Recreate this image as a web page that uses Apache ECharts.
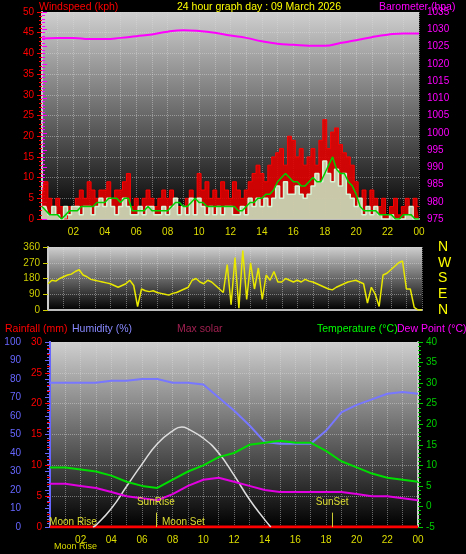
<!DOCTYPE html>
<html><head><meta charset="utf-8">
<script src="https://cdn.jsdelivr.net/npm/echarts@6/dist/echarts.min.js"></script>
<style>html,body{margin:0;background:#000}#c{width:466px;height:554px}</style>
</head><body><div id="c"></div>
<script>
// 15-minute wind data (kph)
const gust = [5,9,5,3, 5,3,0,3, 3,5,7,5, 9,7,5,7, 7,9,5,7, 7,9,11,3, 5,3,5,7, 5,3,5,7, 5,7,5,3, 3,5,7,5, 11,7,9,5, 7,5,9,7, 5,9,7,5, 7,9,11,13, 11,9,13,15, 16,17,13,20, 19,15,17,13, 15,17,13,19, 24,17,21,22, 18,16,15,13, 9,5,7,3, 7,5,3,5, 1,3,5,1, 3,5,1,5, 3];
const windAvg = [3,3,1,3, 1,0,3,1, 3,3,1,3, 3,1,3,5, 3,5,3,1, 3,5,3,1, 1,3,1,3, 3,1,1,3, 1,3,5,1, 3,1,5,1, 5,3,1,3, 1,3,1,3, 3,1,1,3, 1,5,3,5, 3,5,3,5, 8,5,9,6, 6,8,6,5, 6,8,11,9, 14,11,9,12, 8,11,6,5, 3,5,1,3, 1,3,1,0, 0,1,0,0, 0,1,3,0, 0];
const windMean = [3,2,1,1, 1,0,1,2, 2,2,3,3, 3,3,4,4, 4,5,5,5, 4,5,5,2, 2,2,2,3, 2,2,2,2, 2,3,4,4, 3,3,4,5, 4,4,3,3, 3,3,3,3, 3,3,2,2, 3,4,4,5, 5,6,6,7, 9,10,11,10, 9,9,8,8, 9,10,9,9, 11,13,15,12, 11,11,9,8, 6,3,2,2, 2,2,1,1, 1,1,0,0, 1,1,1,0, 0];
// hourly barometer (hPa)
const baro = [1027.3,1027.5,1027.5,1027.2,1027.2,1027.5,1028,1028.5,1029.3,1029.7,1029.5,1029,1028.2,1027.5,1026.5,1025.8,1025.5,1025.2,1025.2,1026,1026.8,1027.7,1028.4,1028.8,1028.8];
// 15-minute wind direction (deg)
const windDir = [150,170,165,180, 190,200,205,220, 230,200,190,175, 170,165,160,155, 150,140,130,140, 150,170,140,20, 120,110,105,110, 100,95,90,85, 95,100,110,120, 130,170,180,160, 150,170,160,140, 120,100,260,30, 300,10,340,60, 270,120,240,60, 200,170,220,160, 160,180,170,160, 170,160,175,165, 160,150,140,130, 120,115,130,140, 150,160,165,170, 160,150,40,130, 90,20,200,210, 230,250,270,280, 120,120,15,0, 0];
// hourly humidity, temperature, dew point
const humidity = [78,78,78,78,79,79,80,80,78,78,77,70,63,55,46,45,45,45,52,62,66,69,72,73,72];
const temperature = [9.5,9.5,9,8.5,7.5,6,5,4.5,6.5,8.5,10,12,13,15,15.5,16,15.5,15.5,13.5,11,9.5,8,7,6.5,6];
const dewPoint = [5.5,5.5,5,4.5,3.5,2.5,2,1.5,3,5,6.5,7,6,5,4,3.5,3.5,3.5,3.5,3.5,3,2.5,2.5,2,1.5];
const rainfall = [0,0,0,0,0,0,0,0,0,0,0,0,0,0,0,0,0,0,0,0,0,0,0,0,0];
const solarHours = [2.8,3,4,5,6,7,8,8.6,9,10,11,12,13,14,14.4];
const solarMax = [0,1,10,22,34,45,52,54,53,48,40,28,15,4,0];
const sunRise = 6.9, sunSet = 18.4, moonSet = 8.7, moonRise = 1.5;
const dirNames = {0:'N',90:'E',180:'S',270:'W',360:'N'};

const q = a => a.map((v,i)=>[i*0.25,v]);
const h = a => a.map((v,i)=>[i,v]);
const F = 'Liberation Sans, Arial, sans-serif';
const bg = {type:'linear',x:0,y:0,x2:0,y2:1,colorStops:[{offset:0,color:'#cfcfcf'},{offset:1,color:'#000'}]};
const pad = v => (v%24<10?'0':'')+(v%24);
const xAx = (gi, show) => ({type:'value',gridIndex:gi,min:0,max:24,interval:2,
  axisLine:{show:true,lineStyle:{color:'#bbb',width:2}},axisTick:{show:false},
  axisLabel:{show:show,color:'#dddd00',fontSize:10,fontFamily:F,showMinLabel:false,formatter:pad},
  splitLine:{show:false}});
const vgrid = gi => ({type:'value',gridIndex:gi,min:0,max:24,interval:1,axisLine:{show:false},axisTick:{show:false},axisLabel:{show:false},
  splitLine:{show:true,lineStyle:{color:'rgba(220,220,220,0.45)',type:'dotted'}}});
const T = (text,left,top,color) => ({text,left,top,textStyle:{color,fontSize:10.5,fontWeight:'normal',fontFamily:F}});

const opt = {
  backgroundColor:'#000', animation:false,
  title:[
    T('Windspeed (kph)',34,-3,'#f00'),
    T('24 hour graph day : 09 March 2026',172,-3,'#ff0'),
    T('Barometer (hpa)',374,-3,'#f0f'),
    T('Rainfall (mm)',0,319,'#f00'),
    T('Humidity (%)',67,319,'#8888ff'),
    T('Max solar',172,319,'#a02050'),
    T('Temperature (°C)',312,319,'#0f0'),
    T('Dew Point (°C)',392,319,'#f0f'),
    {text:'Moon Rise',left:49,top:537,textStyle:{color:'#dddd00',fontSize:9,fontWeight:'normal',fontFamily:F}}
  ],
  grid:[
    {left:42,right:47,top:12,height:207,show:true,backgroundColor:bg,borderWidth:0},
    {left:48,right:44,top:247,height:63,show:true,backgroundColor:bg,borderWidth:0},
    {left:50,right:48,top:342,height:185,show:true,backgroundColor:bg,borderWidth:0}
  ],
  xAxis:[xAx(0,true),xAx(1,false),xAx(2,true),vgrid(0),vgrid(1),vgrid(2)],
  yAxis:[
    {type:'value',gridIndex:0,min:0,max:50,interval:5,position:'left',
     axisLine:{show:true,lineStyle:{color:'#ccc',width:2}},axisTick:{show:true,lineStyle:{color:'#f00'}},minorTick:{show:true,splitNumber:5,lineStyle:{color:'#f00'}},
     axisLabel:{color:'#f00',fontSize:10,fontFamily:F},splitLine:{show:true,lineStyle:{color:'rgba(220,220,220,0.45)',type:'dotted'}}},
    {type:'value',gridIndex:0,min:975,max:1035,interval:5,position:'right',
     axisLine:{show:true,lineStyle:{color:'#ccc',width:2}},axisTick:{show:true,lineStyle:{color:'#f0f'}},minorTick:{show:true,splitNumber:5,lineStyle:{color:'#f0f'}},
     axisLabel:{color:'#f0f',fontSize:10,fontFamily:F,formatter:v=>String(v)},splitLine:{show:false}},
    {type:'value',gridIndex:1,min:0,max:360,interval:90,position:'left',
     axisLine:{show:true,lineStyle:{color:'#ccc',width:2}},axisTick:{show:true,lineStyle:{color:'#cccc00'}},
     axisLabel:{color:'#cccc00',fontSize:10,fontFamily:F},splitLine:{show:true,lineStyle:{color:'rgba(220,220,220,0.45)',type:'dotted'}}},
    {type:'value',gridIndex:1,min:0,max:360,interval:90,position:'right',offset:8,
     axisLine:{show:false},axisTick:{show:false},
     axisLabel:{color:'#ff0',fontSize:14,fontFamily:F,formatter:v=>dirNames[v]},splitLine:{show:false}},
    {type:'value',gridIndex:2,min:0,max:30,interval:5,position:'left',
     axisLine:{show:true,lineStyle:{color:'#ccc',width:2}},axisTick:{show:true,lineStyle:{color:'#f00'}},minorTick:{show:true,splitNumber:5,lineStyle:{color:'#f00'}},
     axisLabel:{color:'#f00',fontSize:10,fontFamily:F},splitLine:{show:true,lineStyle:{color:'rgba(220,220,220,0.45)',type:'dotted'}}},
    {type:'value',gridIndex:2,min:0,max:100,interval:10,position:'left',offset:21,
     axisLine:{show:true,lineStyle:{color:'#6666ff',width:2}},axisTick:{show:true,lineStyle:{color:'#6666ff'}},minorTick:{show:true,splitNumber:5,lineStyle:{color:'#6666ff'}},
     axisLabel:{color:'#6666ff',fontSize:10,fontFamily:F},splitLine:{show:false}},
    {type:'value',gridIndex:2,min:-5,max:40,interval:5,position:'right',
     axisLine:{show:true,lineStyle:{color:'#ccc',width:2}},axisTick:{show:true,lineStyle:{color:'#0c0'}},minorTick:{show:true,splitNumber:5,lineStyle:{color:'#0c0'}},
     axisLabel:{color:'#0c0',fontSize:10,fontFamily:F},splitLine:{show:false}}
  ],
  series:[
    {type:'line',xAxisIndex:0,yAxisIndex:0,data:q(gust),step:'middle',symbol:'none',lineStyle:{color:'#f00',width:1},areaStyle:{color:'#e00000',opacity:0.9}},
    {type:'line',xAxisIndex:0,yAxisIndex:0,data:q(windAvg),step:'middle',symbol:'none',lineStyle:{color:'#d8f5d8',width:1.5},areaStyle:{color:'#c8ecc8',opacity:0.85}},
    {type:'line',xAxisIndex:0,yAxisIndex:0,data:q(windMean),symbol:'none',lineStyle:{color:'#00d000',width:1.5}},
    {type:'line',xAxisIndex:0,yAxisIndex:1,data:h(baro),smooth:true,symbol:'none',lineStyle:{color:'#f0f',width:2}},
    {type:'line',xAxisIndex:1,yAxisIndex:2,data:q(windDir),symbol:'none',lineStyle:{color:'#e8e800',width:1.5}},
    {type:'line',xAxisIndex:2,yAxisIndex:4,data:h(rainfall),symbol:'none',lineStyle:{color:'#f00',width:3}},
    {type:'line',xAxisIndex:2,yAxisIndex:5,data:h(humidity),symbol:'none',lineStyle:{color:'#7777ff',width:2}},
    {type:'line',xAxisIndex:2,yAxisIndex:5,data:solarHours.map((x,i)=>[x,solarMax[i]]),smooth:true,symbol:'none',lineStyle:{color:'#ddd',width:1.5}},
    {type:'line',xAxisIndex:2,yAxisIndex:6,data:h(temperature),symbol:'none',lineStyle:{color:'#00dd00',width:2}},
    {type:'line',xAxisIndex:2,yAxisIndex:6,data:h(dewPoint),symbol:'none',lineStyle:{color:'#e000e0',width:2},
     markPoint:{symbol:'circle',symbolSize:0,silent:true,
       label:{show:true,color:'#dddd33',fontSize:10,fontFamily:F,position:'top',distance:0},
       data:[
         {coord:[moonSet,-5],value:'Moon Set',label:{formatter:'Moon Set'}},
         {coord:[moonRise,-5],value:'Moon Rise',label:{formatter:'Moon Rise'}}
       ]},
     markLine:{symbol:'none',silent:true,lineStyle:{color:'#cccc33',width:1,type:'solid'},
       label:{color:'#dddd33',fontSize:10,fontFamily:F,position:'end'},
       data:[
         [{coord:[sunRise,-5],label:{formatter:'SunRise'}},{coord:[sunRise,-1.5]}],
         [{coord:[sunSet,-5],label:{formatter:'SunSet'}},{coord:[sunSet,-1.5]}]
       ]}}
  ]
};
echarts.init(document.getElementById('c')).setOption(opt);
</script></body></html>
